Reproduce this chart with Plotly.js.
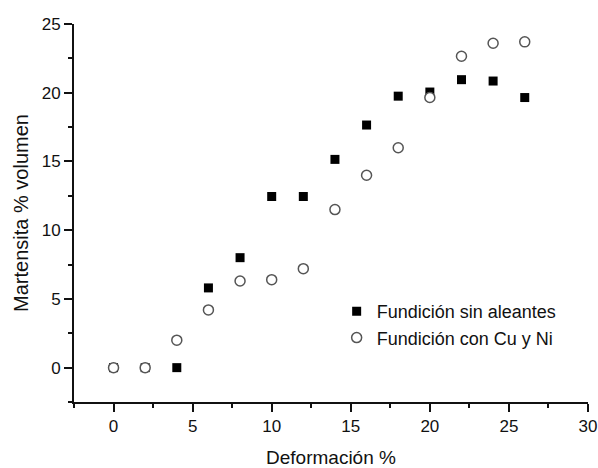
<!DOCTYPE html>
<html>
<head>
<meta charset="utf-8">
<script src="https://cdn.plot.ly/plotly-3.0.1.min.js"></script>
<style>html,body{margin:0;padding:0;background:#fff;}#chart{width:598px;height:468px;}</style>
</head>
<body>
<div id="chart"></div>
<script>
const deformacion = [0, 2, 4, 6, 8, 10, 12, 14, 16, 18, 20, 22, 24, 26];
const sinAleantes = [0, 0, 0, 5.8, 8.0, 12.45, 12.45, 15.15, 17.65, 19.75, 20.05, 20.95, 20.85, 19.65];
const conCuNi = [0, 0, 2.0, 4.2, 6.3, 6.4, 7.2, 11.5, 14.0, 16.0, 19.65, 22.65, 23.6, 23.7];
const seriesNames = ["Fundición sin aleantes", "Fundición con Cu y Ni"];
const xTitle = "Deformación %";
const yTitle = "Martensita % volumen";

const font = "Liberation Sans, Arial, sans-serif";
const traces = [
  {x: deformacion, y: sinAleantes, name: seriesNames[0], type: "scatter", mode: "markers",
   marker: {symbol: "square", size: 9, color: "#000", line: {width: 0}}},
  {x: deformacion, y: conCuNi, name: seriesNames[1], type: "scatter", mode: "markers",
   marker: {symbol: "circle", size: 10, color: "#fff", line: {width: 1.5, color: "#555"}}}
];
const axisCommon = {
  showgrid: false, zeroline: false, showline: true, linecolor: "#111", linewidth: 2,
  ticks: "outside", ticklen: 8, tickwidth: 2, tickcolor: "#111",
  tickfont: {family: font, size: 17, color: "#111"},
  dtick: 5, tick0: 0,
  minor: {dtick: 2.5, tick0: 0, ticks: "outside", ticklen: 4, tickwidth: 2, tickcolor: "#111", showgrid: false}
};
const layout = {
  width: 598, height: 468,
  margin: {l: 74, r: 10, t: 24, b: 66},
  paper_bgcolor: "#fff", plot_bgcolor: "#fff",
  showlegend: true,
  legend: {x: 0.511, xanchor: "left", y: 0.205, yanchor: "middle", bgcolor: "rgba(0,0,0,0)",
           font: {family: font, size: 18, color: "#111"}, tracegroupgap: 0, itemwidth: 30},
  xaxis: Object.assign({}, axisCommon, {range: [-2.5, 30],
    title: {text: xTitle, font: {family: font, size: 19, color: "#111"}, standoff: 26}}),
  yaxis: Object.assign({}, axisCommon, {range: [-2.5, 25],
    title: {text: yTitle, font: {family: font, size: 20, color: "#111"}, standoff: 8}})
};
Plotly.newPlot("chart", traces, layout, {displayModeBar: false, staticPlot: true});
</script>
</body>
</html>
